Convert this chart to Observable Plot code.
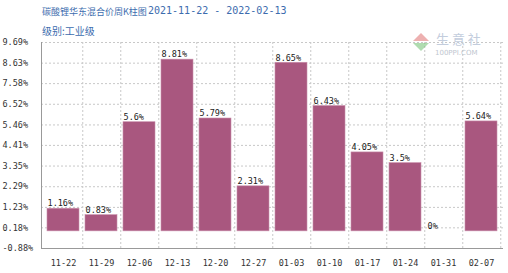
<!DOCTYPE html>
<html><head><meta charset="utf-8">
<script src="https://cdn.jsdelivr.net/npm/d3@7"></script>
<script src="https://cdn.jsdelivr.net/npm/@observablehq/plot@0.6"></script>
<style>
body{margin:0;background:#fff;}
#wrap{position:relative;width:508px;height:273px;overflow:hidden;}
.t{position:absolute;white-space:nowrap;line-height:1;}
</style></head>
<body><div id="wrap"></div>
<script>
const weeks = ["11-22","11-29","12-06","12-13","12-20","12-27","01-03","01-10","01-17","01-24","01-31","02-07"];
const values = [1.16, 0.83, 5.6, 8.81, 5.79, 2.31, 8.65, 6.43, 4.05, 3.5, 0, 5.64];
const yTicks = [9.69, 8.63, 7.58, 6.52, 5.46, 4.41, 3.35, 2.29, 1.23, 0.18, -0.88];
const titleText = "碳酸锂华东混合价周K柱图";
const dateRange = "2021-11-22 - 2022-02-13";
const subtitleText = "级别:工业级";

const data = weeks.map((w, i) => ({week: w, value: values[i]}));
const mono = "'DejaVu Sans Mono', 'Liberation Mono', monospace";
const W = 508, H = 273, mL = 41, mR = 5, mT = 42, mB = 25;
const step = (W - mL - mR) / weeks.length;
const bw = step * 0.83;

const chart = Plot.plot({
  width: W, height: H,
  marginLeft: mL, marginRight: mR, marginTop: mT, marginBottom: mB,
  style: {fontFamily: mono, background: "transparent"},
  x: {domain: weeks, paddingInner: 0.17, paddingOuter: 0.085, axis: null},
  y: {domain: [-0.88, 9.69], axis: null},
  marks: [
    Plot.ruleY(yTicks.slice(0, -1), {stroke: "#c8c8c8", strokeDasharray: "2,2", strokeWidth: 1}),
    Plot.ruleX(weeks, {x: d => d, dx: step / 2, stroke: "#c8c8c8", strokeDasharray: "2,2", strokeWidth: 1}),
    Plot.barY(data, {x: "week", y: "value", fill: "#a9577f", stroke: "#c98fab", strokeWidth: 0.6}),
    Plot.text(data, {x: "week", y: "value", text: d => d.value + "%", dx: -bw / 2, dy: -5,
      textAnchor: "start", fontSize: 8.5, fill: "#222", fontFamily: mono}),
    Plot.text(yTicks, {y: d => d, text: d => d.toFixed(2) + "%", frameAnchor: "left", dx: -39,
      textAnchor: "start", fontSize: 8.5, fill: "#333", fontFamily: mono}),
    Plot.axisX({tickSize: 0, tickPadding: 11, fontSize: 8.5, fill: "#333", fontFamily: mono, label: null}),
    Plot.ruleY([-0.88], {stroke: "#999", strokeWidth: 1}),
    Plot.frame({anchor: "left", stroke: "#999"})
  ]
});
const wrap = document.getElementById("wrap");
wrap.appendChild(chart);
chart.style.position = "absolute"; chart.style.left = "0"; chart.style.top = "0";

function addText(txt, css){ const d=document.createElement("div"); d.className="t"; d.textContent=txt; d.style.cssText += css; wrap.appendChild(d); return d;}
addText(titleText, "left:42px;top:5px;font:9px 'Noto Sans CJK SC',sans-serif;color:#3c6cae;");
addText(dateRange, "left:148px;top:5px;font:10px "+mono+";color:#3c6cae;");
addText(subtitleText, "left:42px;top:23px;font:10px 'Noto Sans CJK SC',sans-serif;color:#3c6cae;");
// watermark
const wm = document.createElementNS("http://www.w3.org/2000/svg","svg");
wm.setAttribute("width","20"); wm.setAttribute("height","20");
wm.style.cssText="position:absolute;left:411px;top:32px;opacity:0.55";
wm.innerHTML='<polygon points="10,1 18,9 2,9" fill="#e07070"/><polygon points="10,19 18,11 2,11" fill="#70c070"/>';
wrap.appendChild(wm);
addText("生 意 社", "left:436px;top:29px;font:13px 'Noto Sans CJK SC',sans-serif;color:#c3cddd;");
addText("100PPI.COM", "left:435px;top:49px;font:7px 'DejaVu Sans',sans-serif;color:#c0c6cf;");
</script></body></html>
